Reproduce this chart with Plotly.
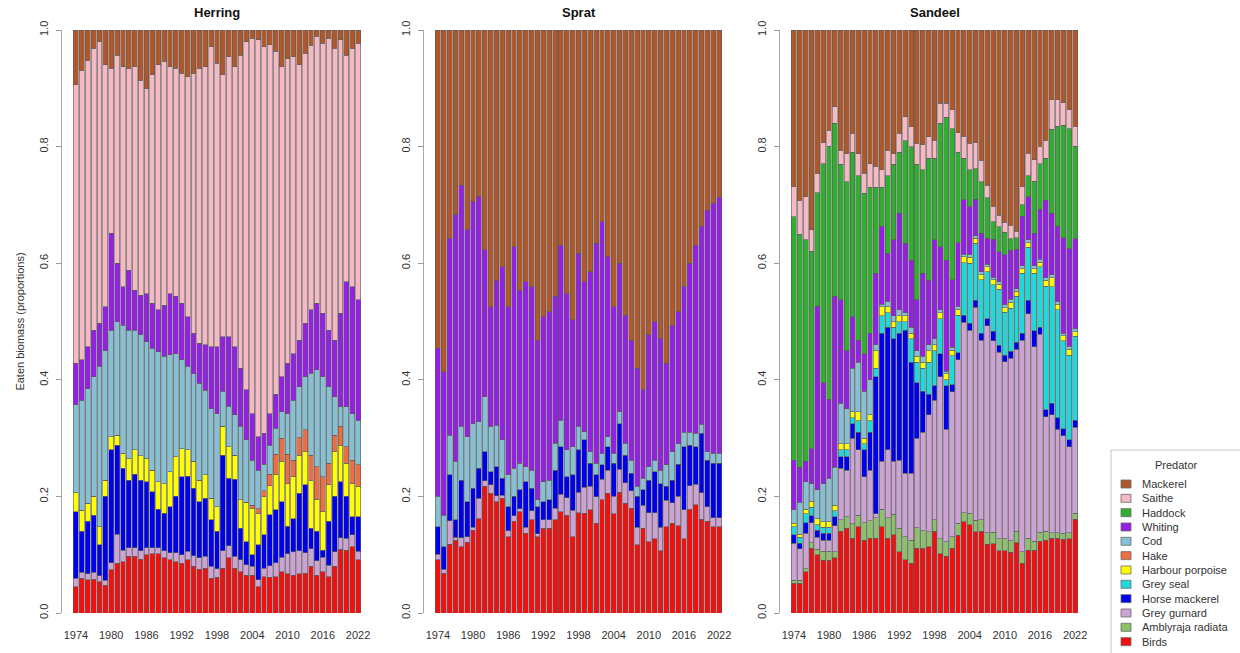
import plotly.graph_objects as go

years = list(range(1974, 2023))
year_ticks = [1974, 1980, 1986, 1992, 1998, 2004, 2010, 2016, 2022]
panel_titles = ["Herring", "Sprat", "Sandeel"]

# ---- Herring: proportion of eaten biomass by predator ----
herring_birds = [0.045,0.06,0.057,0.058,0.054,0.048,0.074,0.085,0.088,0.097,0.097,0.092,0.1,0.102,0.102,0.095,0.091,0.088,0.085,0.091,0.08,0.075,0.077,0.06,0.061,0.077,0.095,0.077,0.071,0.065,0.065,0.045,0.062,0.062,0.063,0.071,0.067,0.065,0.067,0.068,0.08,0.065,0.071,0.062,0.08,0.109,0.108,0.114,0.091]
herring_grey_gurnard = [0.015,0.01,0.01,0.012,0.01,0.008,0.012,0.05,0.02,0.015,0.015,0.015,0.012,0.01,0.01,0.012,0.012,0.015,0.015,0.015,0.018,0.02,0.02,0.02,0.015,0.03,0.02,0.02,0.02,0.018,0.015,0.012,0.015,0.02,0.025,0.025,0.035,0.04,0.04,0.035,0.03,0.025,0.025,0.02,0.025,0.02,0.02,0.02,0.015]
herring_horse_mackerel = [0.114,0.07,0.09,0.098,0.053,0.144,0.194,0.153,0.14,0.116,0.126,0.121,0.113,0.096,0.066,0.064,0.079,0.097,0.134,0.129,0.116,0.096,0.1,0.08,0.064,0.164,0.116,0.132,0.054,0.039,0.02,0.06,0.057,0.089,0.092,0.095,0.047,0.057,0.098,0.117,0.035,0.05,0.012,0.075,0.095,0.096,0.072,0.031,0.059]
herring_harbour_porpoise = [0.032,0.036,0.031,0.032,0.031,0.028,0.022,0.017,0.026,0.037,0.042,0.042,0.04,0.037,0.047,0.051,0.06,0.068,0.048,0.045,0.046,0.037,0.04,0.037,0.042,0.049,0.054,0.042,0.049,0.068,0.08,0.054,0.066,0.051,0.062,0.069,0.073,0.072,0.066,0.057,0.083,0.054,0.066,0.063,0.077,0.063,0.057,0.057,0.052]
herring_hake = [0,0,0,0,0,0,0,0,0,0,0,0,0,0,0,0,0,0,0,0,0,0,0,0,0,0,0,0,0,0,0.005,0.008,0.01,0.02,0.035,0.04,0.05,0.028,0.03,0.037,0.043,0.057,0.06,0.037,0.028,0.032,0.028,0.04,0.037]
herring_cod = [0.151,0.189,0.197,0.205,0.275,0.222,0.183,0.195,0.22,0.22,0.205,0.207,0.2,0.209,0.223,0.218,0.201,0.177,0.152,0.143,0.15,0.166,0.145,0.153,0.16,0.06,0.07,0.069,0.126,0.107,0.077,0.066,0.045,0.05,0.045,0.045,0.07,0.103,0.087,0.091,0.14,0.166,0.171,0.131,0.066,0.034,0.069,0.08,0.077]
herring_whiting = [0.071,0.069,0.072,0.08,0.074,0.075,0.166,0.1,0.066,0.103,0.069,0.068,0.083,0.077,0.072,0.088,0.105,0.098,0.097,0.085,0.07,0.069,0.078,0.107,0.115,0.094,0.119,0.117,0.1,0.086,0.08,0.057,0.053,0.055,0.06,0.06,0.086,0.08,0.08,0.092,0.109,0.114,0.109,0.097,0.097,0.16,0.214,0.218,0.206]
herring_saithe = [0.478,0.497,0.491,0.484,0.483,0.415,0.283,0.357,0.377,0.346,0.383,0.369,0.352,0.392,0.42,0.418,0.389,0.391,0.395,0.412,0.446,0.471,0.477,0.514,0.486,0.449,0.48,0.48,0.537,0.597,0.644,0.681,0.663,0.643,0.598,0.532,0.523,0.509,0.472,0.463,0.454,0.458,0.463,0.501,0.501,0.469,0.389,0.409,0.44]
herring_mackerel = [0.094,0.069,0.052,0.031,0.02,0.06,0.066,0.043,0.063,0.066,0.063,0.086,0.1,0.077,0.06,0.054,0.063,0.066,0.074,0.08,0.074,0.066,0.063,0.029,0.057,0.077,0.046,0.063,0.043,0.02,0.014,0.017,0.029,0.026,0.037,0.063,0.049,0.046,0.06,0.04,0.026,0.011,0.023,0.014,0.031,0.017,0.043,0.031,0.023]

# ---- Sprat ----
sprat_birds = [0.091,0.068,0.118,0.125,0.114,0.121,0.142,0.162,0.217,0.205,0.191,0.197,0.131,0.157,0.174,0.137,0.16,0.131,0.145,0.145,0.16,0.174,0.168,0.131,0.172,0.171,0.177,0.154,0.194,0.205,0.17,0.207,0.188,0.18,0.117,0.145,0.122,0.127,0.107,0.148,0.154,0.15,0.127,0.178,0.186,0.161,0.157,0.148,0.148]
sprat_grey_gurnard = [0.01,0.007,0.04,0.005,0.015,0.01,0.005,0.035,0.01,0.015,0.01,0.005,0.01,0.01,0.005,0.01,0.015,0.005,0.015,0.015,0.02,0.03,0.03,0.045,0.035,0.045,0.04,0.045,0.035,0.04,0.03,0.04,0.035,0.03,0.03,0.04,0.05,0.045,0.04,0.045,0.035,0.05,0.05,0.04,0.035,0.045,0.025,0.015,0.015]
sprat_horse_mackerel = [0.047,0.039,0.079,0.03,0.099,0.06,0.067,0.051,0.05,0.022,0.05,0.029,0.041,0.033,0.032,0.078,0.039,0.046,0.031,0.034,0.065,0.081,0.036,0.061,0.073,0.081,0.04,0.038,0.025,0.04,0.057,0.078,0.048,0.03,0.053,0.026,0.056,0.07,0.075,0.024,0.039,0.055,0.108,0.07,0.064,0.102,0.08,0.094,0.094]
sprat_cod = [0.052,0.054,0.068,0.1,0.092,0.111,0.111,0.08,0.094,0.078,0.071,0.066,0.055,0.048,0.046,0.026,0.031,0.012,0.034,0.034,0.046,0.046,0.046,0.048,0.04,0.014,0.02,0.02,0.02,0.017,0.017,0.02,0.02,0.022,0.017,0.02,0.023,0.02,0.023,0.037,0.049,0.035,0.025,0.022,0.023,0.016,0.015,0.017,0.017]
sprat_whiting = [0.254,0.246,0.338,0.423,0.414,0.355,0.381,0.386,0.252,0.205,0.249,0.297,0.288,0.38,0.297,0.317,0.315,0.274,0.283,0.289,0.252,0.3,0.268,0.218,0.297,0.257,0.308,0.377,0.397,0.309,0.251,0.255,0.22,0.206,0.203,0.152,0.226,0.238,0.226,0.174,0.217,0.227,0.25,0.29,0.323,0.339,0.414,0.429,0.439]
sprat_mackerel = [0.546,0.586,0.357,0.317,0.266,0.343,0.294,0.286,0.377,0.475,0.429,0.406,0.475,0.372,0.446,0.432,0.44,0.532,0.492,0.483,0.457,0.369,0.452,0.497,0.383,0.432,0.415,0.366,0.329,0.389,0.475,0.4,0.489,0.532,0.58,0.617,0.523,0.5,0.529,0.572,0.506,0.483,0.44,0.4,0.369,0.337,0.309,0.297,0.287]

# ---- Sandeel ----
sandeel_birds = [0.051,0.051,0.071,0.111,0.1,0.091,0.091,0.095,0.14,0.145,0.128,0.148,0.125,0.128,0.128,0.148,0.128,0.134,0.105,0.091,0.085,0.111,0.111,0.114,0.14,0.102,0.097,0.111,0.134,0.157,0.151,0.14,0.14,0.119,0.119,0.108,0.108,0.105,0.122,0.085,0.108,0.108,0.124,0.125,0.128,0.128,0.128,0.128,0.162]
sandeel_amblyraja = [0.005,0.005,0.005,0.01,0.01,0.015,0.015,0.01,0.02,0.02,0.025,0.02,0.03,0.03,0.035,0.03,0.035,0.035,0.04,0.04,0.04,0.035,0.03,0.025,0.02,0.025,0.025,0.02,0.02,0.015,0.02,0.02,0.02,0.02,0.02,0.02,0.02,0.02,0.02,0.02,0.02,0.015,0.015,0.015,0.01,0.01,0.01,0.01,0.01]
sandeel_grey_gurnard = [0.064,0.054,0.061,0.034,0.02,0.019,0.019,0.045,0.088,0.08,0.147,0.112,0.079,0.087,0.007,0.082,0.117,0.091,0.117,0.109,0.115,0.154,0.169,0.201,0.205,0.278,0.193,0.249,0.281,0.328,0.314,0.368,0.308,0.358,0.329,0.323,0.306,0.315,0.315,0.363,0.386,0.334,0.341,0.197,0.202,0.177,0.169,0.148,0.148]
sandeel_horse_mackerel = [0.014,0.01,0.018,0.012,0.012,0.012,0.012,0.015,0.02,0.023,0.025,0.03,0.046,0.065,0.235,0.22,0.21,0.21,0.218,0.245,0.19,0.095,0.07,0.035,0.025,0.04,0.075,0.012,0.012,0.012,0.012,0.012,0.012,0.012,0.017,0.012,0.012,0.012,0.012,0.012,0.023,0.028,0.012,0.012,0.02,0.02,0.012,0.012,0.012]
sandeel_grey_seal = [0.014,0.01,0.015,0.015,0.01,0.01,0.01,0.01,0.012,0.012,0.01,0.02,0.01,0.02,0.015,0.03,0.025,0.02,0.02,0.015,0.04,0.035,0.04,0.055,0.06,0.06,0.01,0.05,0.065,0.09,0.103,0.099,0.092,0.082,0.08,0.097,0.074,0.074,0.08,0.103,0.091,0.098,0.104,0.212,0.2,0.185,0.153,0.146,0.145]
sandeel_harbour_porpoise = [0.006,0.005,0.008,0.01,0.01,0.01,0.01,0.01,0.01,0.01,0.01,0.015,0.01,0.01,0.03,0.015,0.01,0.01,0.01,0.01,0.01,0.01,0.01,0.02,0.01,0.01,0.01,0.01,0.01,0.01,0.01,0.008,0.008,0.008,0.008,0.008,0.008,0.01,0.008,0.008,0.008,0.008,0.008,0.01,0.015,0.01,0.008,0.01,0.008]
sandeel_cod = [0.023,0.055,0.047,0.03,0.05,0.065,0.075,0.065,0.07,0.06,0.075,0.085,0.08,0.06,0.01,0.005,0.01,0.01,0.01,0.005,0.01,0.01,0.01,0.01,0.01,0.005,0.005,0.005,0.005,0.005,0.005,0.005,0.005,0.005,0.005,0.005,0.005,0.005,0.005,0.005,0.005,0.005,0.005,0.005,0.005,0.005,0.005,0.005,0.005]
sandeel_whiting = [0.085,0.06,0.035,0.06,0.315,0.174,0.135,0.293,0.177,0.1,0.088,0.038,0.065,0.08,0.123,0.133,0.082,0.13,0.166,0.119,0.115,0.087,0.143,0.111,0.17,0.108,0.19,0.116,0.109,0.093,0.082,0.063,0.066,0.045,0.065,0.052,0.086,0.085,0.068,0.085,0.074,0.056,0.086,0.133,0.106,0.128,0.165,0.168,0.155]
sandeel_haddock = [0.418,0.4,0.38,0.34,0.195,0.376,0.435,0.297,0.233,0.29,0.282,0.282,0.275,0.25,0.147,0.067,0.133,0.13,0.104,0.176,0.195,0.233,0.177,0.209,0.14,0.212,0.245,0.259,0.156,0.072,0.063,0.052,0.089,0.07,0.03,0.043,0.039,0.02,0.02,0.02,0.036,0.089,0.079,0.072,0.144,0.172,0.195,0.207,0.16]
sandeel_saithe = [0.051,0.058,0.074,0.037,0.034,0.036,0.028,0.028,0.024,0.048,0.033,0.038,0.034,0.041,0.036,0.03,0.044,0.018,0.033,0.041,0.034,0.036,0.043,0.037,0.031,0.034,0.024,0.033,0.033,0.037,0.046,0.046,0.037,0.021,0.027,0.02,0.018,0.023,0.011,0.031,0.038,0.037,0.03,0.031,0.05,0.045,0.039,0.033,0.034]
sandeel_mackerel = [0.269,0.292,0.286,0.343,0.246,0.194,0.172,0.132,0.206,0.212,0.177,0.212,0.246,0.229,0.234,0.24,0.206,0.212,0.177,0.149,0.166,0.194,0.197,0.183,0.189,0.126,0.126,0.137,0.177,0.183,0.194,0.194,0.223,0.269,0.303,0.32,0.332,0.337,0.349,0.269,0.212,0.223,0.2,0.189,0.12,0.12,0.126,0.137,0.166]

# Predators in stacking order (bottom -> top); the key lists them top -> bottom
predators = ["Birds", "Amblyraja radiata", "Grey gurnard", "Horse mackerel", "Grey seal",
             "Harbour porpoise", "Hake", "Cod", "Whiting", "Haddock", "Saithe", "Mackerel"]
colors = {
    "Mackerel": "#B0582B",
    "Saithe": "#F6B8C3",
    "Haddock": "#2FAE2F",
    "Whiting": "#9420E6",
    "Cod": "#86C0D4",
    "Hake": "#EC6E43",
    "Harbour porpoise": "#FFFF00",
    "Grey seal": "#1FD8DC",
    "Horse mackerel": "#0000EE",
    "Grey gurnard": "#CDA3D5",
    "Amblyraja radiata": "#8CC06A",
    "Birds": "#F01010",
}

panels = [
    {"Birds": herring_birds, "Grey gurnard": herring_grey_gurnard,
     "Horse mackerel": herring_horse_mackerel, "Harbour porpoise": herring_harbour_porpoise,
     "Hake": herring_hake, "Cod": herring_cod, "Whiting": herring_whiting,
     "Saithe": herring_saithe, "Mackerel": herring_mackerel},
    {"Birds": sprat_birds, "Grey gurnard": sprat_grey_gurnard,
     "Horse mackerel": sprat_horse_mackerel, "Cod": sprat_cod,
     "Whiting": sprat_whiting, "Mackerel": sprat_mackerel},
    {"Birds": sandeel_birds, "Amblyraja radiata": sandeel_amblyraja,
     "Grey gurnard": sandeel_grey_gurnard, "Horse mackerel": sandeel_horse_mackerel,
     "Grey seal": sandeel_grey_seal, "Harbour porpoise": sandeel_harbour_porpoise,
     "Cod": sandeel_cod, "Whiting": sandeel_whiting, "Haddock": sandeel_haddock,
     "Saithe": sandeel_saithe, "Mackerel": sandeel_mackerel},
]

W, H = 1240, 653
FONT = "Liberation Sans, Arial, Helvetica, sans-serif"
TXT = "#333333"

def px_x(x):
    return x / W

def px_y(y):
    return 1 - y / H

# panel left/right edges in pixels (axis line at left edge)
panel_px = [(62, 372), (424, 733), (780, 1089)]
y_dom = [px_y(613), px_y(30)]

fig = go.Figure()
for p, data in enumerate(panels):
    sfx = "" if p == 0 else str(p + 1)
    for name in predators:
        if name not in data:
            continue
        fig.add_trace(go.Bar(
            x=years, y=data[name], name=name,
            marker=dict(color=colors[name], line=dict(color="#5c5c5c", width=0.6)),
            xaxis="x" + sfx, yaxis="y" + sfx, showlegend=False,
        ))

layout = dict(
    width=W, height=H,
    margin=dict(l=0, r=0, t=0, b=0),
    paper_bgcolor="white", plot_bgcolor="white",
    barmode="stack", barnorm="fraction", bargap=0.17,
    font=dict(family=FONT, size=11, color=TXT),
    showlegend=False,
)
for p, (x0, x1) in enumerate(panel_px):
    sfx = "" if p == 0 else str(p + 1)
    layout["xaxis" + sfx] = dict(
        domain=[px_x(x0), px_x(x1)], range=[1971.63, 2024.37],
        tickvals=year_ticks, ticktext=[str(t) for t in year_ticks],
        ticks="", showline=False, showgrid=False, zeroline=False,
        ticklabelstandoff=14, tickfont=dict(size=11, color=TXT),
        anchor="y" + sfx, fixedrange=True,
    )
    layout["yaxis" + sfx] = dict(
        domain=y_dom, range=[0, 1],
        tickvals=[0, 0.2, 0.4, 0.6, 0.8, 1.0],
        ticktext=["0.0", "0.2", "0.4", "0.6", "0.8", "1.0"],
        tickangle=-90, ticks="outside", ticklen=5, tickcolor="#9a9a9a",
        showline=True, linecolor="#a8a8a8", linewidth=1,
        showgrid=False, zeroline=False,
        tickfont=dict(size=11, color=TXT), ticklabelstandoff=4,
        anchor="x" + sfx, fixedrange=True, automargin=False,
    )
layout["yaxis"]["title"] = dict(text="Eaten biomass (proportions)",
                                font=dict(size=11, color=TXT), standoff=10)
fig.update_layout(**layout)

# panel titles
for (x0, x1), title in zip(panel_px, panel_titles):
    fig.add_annotation(x=px_x((x0 + x1) / 2), y=px_y(13), xref="paper", yref="paper",
                       text="<b>" + title + "</b>", showarrow=False,
                       font=dict(size=13, color="#111111", family=FONT),
                       xanchor="center", yanchor="middle")

# predator key, drawn as a framed box with swatches
fig.add_shape(type="rect", xref="paper", yref="paper",
              x0=px_x(1111), x1=px_x(1250), y0=px_y(662), y1=px_y(450),
              line=dict(color="#c4c4c4", width=1), fillcolor="white", layer="above")
fig.add_annotation(x=px_x(1176), y=px_y(465), xref="paper", yref="paper",
                   text="Predator", showarrow=False, font=dict(size=11, color=TXT),
                   xanchor="center", yanchor="middle")
for k, name in enumerate(reversed(predators)):
    yc = 484 + 14.33 * k
    fig.add_shape(type="rect", xref="paper", yref="paper",
                  x0=px_x(1121), x1=px_x(1131), y0=px_y(yc + 4), y1=px_y(yc - 4),
                  line=dict(color="#6a6a6a", width=0.8), fillcolor=colors[name], layer="above")
    fig.add_annotation(x=px_x(1140), y=px_y(yc), xref="paper", yref="paper",
                       text=name, showarrow=False, font=dict(size=11, color=TXT),
                       xanchor="left", yanchor="middle")

fig.write_html("out.html")
